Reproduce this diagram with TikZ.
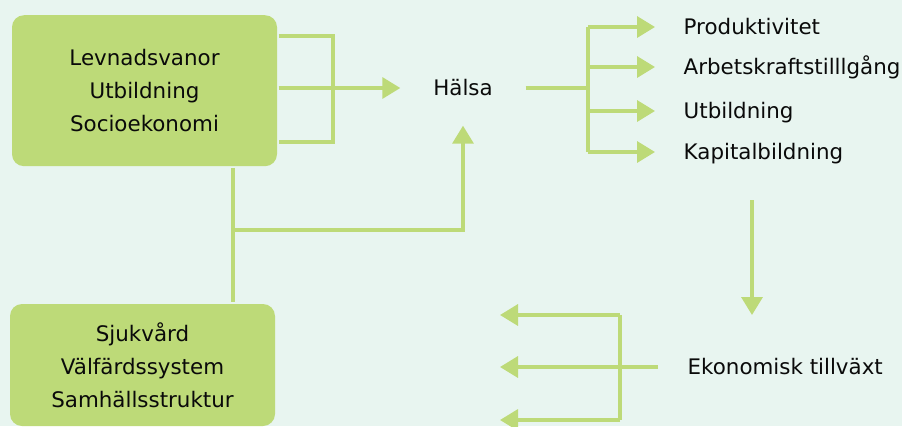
\documentclass[tikz,border=0pt]{standalone}
\usepackage{fontspec}
\setmainfont{DejaVu Sans}
\usetikzlibrary{arrows.meta}

\definecolor{bakgrund}{RGB}{232,245,240}
\definecolor{gron}{RGB}{189,218,120}
\definecolor{textsvart}{RGB}{10,10,10}

\tikzset{every picture/.style={line width=3.4pt}}
\tikzset{
  ruta/.style={fill=gron, draw=none, rounded corners=12pt, minimum width=265pt, align=center, text=textsvart, font=\fontsize{21.4}{33}\selectfont},
  etikett/.style={anchor=west, text=textsvart, font=\fontsize{21.4}{26}\selectfont, text height=15.6pt, text depth=0pt},
  linje/.style={draw=gron, line width=3.4pt},
  pil/.style={linje, -{Triangle[length=18pt,width=21pt]}}
}

\begin{document}
\begin{tikzpicture}[x=1pt,y=1pt,yscale=-1,xscale=1]
	%set diagram to the size of the reference
	\fill[bakgrund] (0,0) rectangle (902,426);
	\useasboundingbox (0,0) rectangle (902,426);

	%Shape: Rounded Rectangle [id:livsstil]
	\node[ruta, minimum height=151pt] (livs) at (144.5,90.7) {Levnadsvanor\\Utbildning\\Socioekonomi};
	%Shape: Rounded Rectangle [id:vard]
	\node[ruta, minimum height=122pt] (vard) at (142.5,365) {Sjukvård\\Välfärdssystem\\Samhällsstruktur};

	% Text Node
	\node[text=textsvart, font=\fontsize{21.4}{26}\selectfont, minimum width=122pt, minimum height=72pt] (halsa) at (463,88) {Hälsa};
	% Text Node
	\node[etikett, inner xsep=27pt] (prod) at (655,27) {Produktivitet};
	% Text Node
	\node[etikett, inner xsep=27pt] (arbk) at (655,67) {Arbetskraftstilllgång};
	% Text Node
	\node[etikett, inner xsep=27pt] (utb) at (655,111) {Utbildning};
	% Text Node
	\node[etikett, inner xsep=27pt] (kap) at (655,152) {Kapitalbildning};
	% Text Node
	\node[etikett, inner xsep=28pt] (ekon) at (658,367) {Ekonomisk tillväxt};

	%Forks and free ends
	\coordinate (g1) at (333,36);
	\coordinate (g2) at (333,142);
	\coordinate (knut) at (233,230);
	\coordinate (h1) at (588,27);
	\coordinate (h2) at (588,152);
	\coordinate (ned1) at (752,200);
	\coordinate (ned2) at (752,315);
	\coordinate (e1) at (620,315);
	\coordinate (e2) at (620,420);
	\coordinate (mal) at (500,367);

	%Straight Lines [id:gaffel vanster]
	\draw[linje] (livs.east |- g1) -- (g1) -- (g2) -- (livs.east |- g2);
	\draw[pil] (livs.east |- halsa.west) -- (halsa.west);
	%Straight Lines [id:mellan]
	\draw[linje] (knut |- livs.south) -- (knut |- vard.north);
	\draw[pil] (knut) -| (halsa.south);

	%Straight Lines [id:gaffel hoger]
	\draw[linje] (halsa.east) -- (h1 |- halsa.east);
	\draw[linje] (h1) -- (h2);
	\foreach \n in {prod,arbk,utb,kap}
		\draw[pil] (h1 |- \n.west) -- (\n.west);

	%Straight Lines [id:ned]
	\draw[pil] (ned1) -- (ned2);

	%Straight Lines [id:gaffel botten]
	\draw[linje] (e1) -- (e2);
	\draw[pil] (ekon.west) -- (mal);
	\draw[pil] (e1) -- (mal |- e1);
	\draw[pil] (e2) -- (mal |- e2);

\end{tikzpicture}
\end{document}
